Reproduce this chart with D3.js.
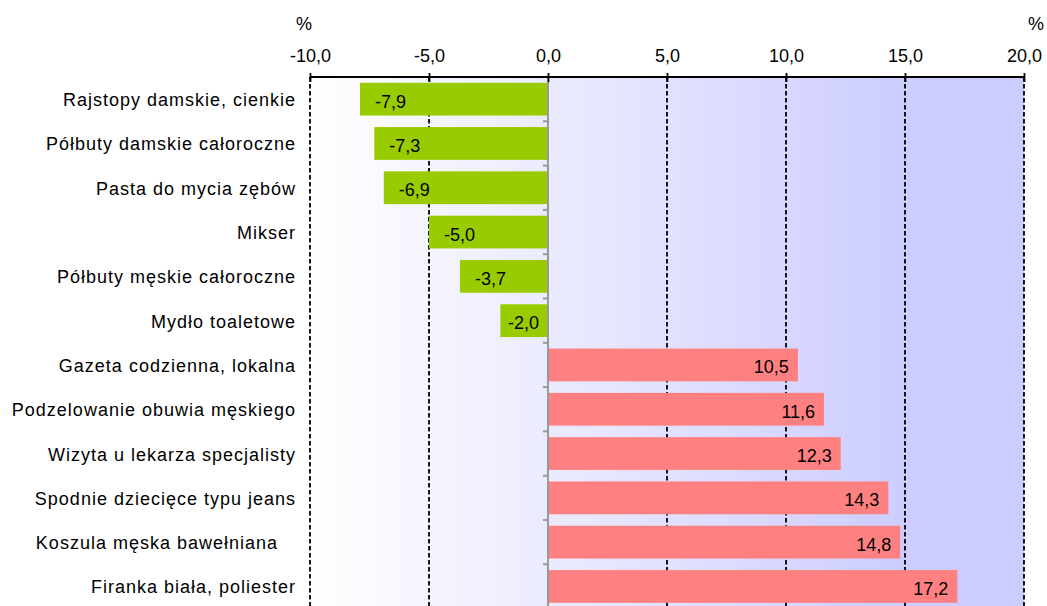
<!DOCTYPE html>
<html>
<head>
<meta charset="utf-8">
<script src="https://cdn.jsdelivr.net/npm/d3@7"></script>
<style>
  html, body { margin: 0; padding: 0; background: #fff; }
  svg text { font-family: "Liberation Sans", Arial, sans-serif; font-size: 18px; fill: #000; white-space: pre; }
  svg text.cat { letter-spacing: 1px; }
</style>
</head>
<body>
<svg id="chart" width="1047" height="606"></svg>
<script>
const categories = [
  "Rajstopy damskie, cienkie",
  "Półbuty damskie całoroczne",
  "Pasta do mycia zębów",
  "Mikser",
  "Półbuty męskie całoroczne",
  "Mydło toaletowe",
  "Gazeta codzienna, lokalna",
  "Podzelowanie obuwia męskiego",
  "Wizyta u lekarza specjalisty",
  "Spodnie dziecięce typu jeans",
  "Koszula męska bawełniana   ",
  "Firanka biała, poliester"
];
const values = [-7.9, -7.3, -6.9, -5.0, -3.7, -2.0, 10.5, 11.6, 12.3, 14.3, 14.8, 17.2];
const tickValues = [-10, -5, 0, 5, 10, 15, 20];
const unitLabel = "%";

const svg = d3.select("#chart");
const pLeft = 310, pRight = 1024, pTop = 77, step = 44.3;
const pBottom = pTop + step * categories.length;

const x = d3.scaleLinear().domain([-10, 20]).range([pLeft, pRight]);
const y = d3.scaleBand().domain(categories).range([pTop, pBottom]).paddingInner(0.26).paddingOuter(0.13);
const fmt = v => d3.format(".1f")(v).replace(".", ",").replace("−", "-");

// background gradient
const defs = svg.append("defs");
const grad = defs.append("linearGradient").attr("id", "bg").attr("x1", "0").attr("x2", "1").attr("y1", "0").attr("y2", "0");
grad.append("stop").attr("offset", "0%").attr("stop-color", "#ffffff");
grad.append("stop").attr("offset", "85%").attr("stop-color", "#ccccff");
grad.append("stop").attr("offset", "100%").attr("stop-color", "#ccccff");
svg.append("rect").attr("x", pLeft).attr("y", pTop).attr("width", pRight - pLeft).attr("height", pBottom - pTop).attr("fill", "url(#bg)");

// dashed gridlines
svg.append("g").selectAll("line").data(tickValues.filter(d => d !== 0)).join("line")
  .attr("x1", d => x(d)).attr("x2", d => x(d))
  .attr("y1", pTop).attr("y2", pBottom)
  .attr("stroke", "#000").attr("stroke-width", 1.8).attr("stroke-dasharray", "4.5,2.5");

// bars
svg.append("g").selectAll("rect").data(categories).join("rect")
  .attr("x", (d, i) => x(Math.min(0, values[i])))
  .attr("width", (d, i) => Math.abs(x(values[i]) - x(0)))
  .attr("y", d => y(d))
  .attr("height", y.bandwidth())
  .attr("fill", (d, i) => values[i] < 0 ? "#99cc00" : "#ff8080");

// zero axis with category ticks
svg.append("line").attr("x1", x(0)).attr("x2", x(0)).attr("y1", pTop).attr("y2", pBottom)
  .attr("stroke", "#999").attr("stroke-width", 2);
svg.append("g").selectAll("line").data(d3.range(1, categories.length + 1)).join("line")
  .attr("x1", x(0) - 5).attr("x2", x(0))
  .attr("y1", k => pTop + k * step).attr("y2", k => pTop + k * step)
  .attr("stroke", "#999").attr("stroke-width", 2);

// top axis
const axis = d3.axisTop(x).tickValues(tickValues).tickFormat(fmt).tickSize(4).tickPadding(12);
const gA = svg.append("g").attr("transform", `translate(0,${pTop})`).call(axis);
gA.attr("font-size", null).attr("font-family", null);
gA.select(".domain").attr("stroke", "#000").attr("stroke-width", 1.8).attr("d", `M${pLeft},0H${pRight}`);
gA.selectAll(".tick line").attr("stroke", "#000").attr("stroke-width", 1.8).attr("y1", 5).attr("y2", -4);
gA.selectAll(".tick text").attr("fill", "#000").attr("y", -15.5).attr("dy", 0);

// unit labels
svg.append("text").attr("x", x(-10) - 6).attr("y", 30).attr("text-anchor", "middle").text(unitLabel);
svg.append("text").attr("x", pRight + 12).attr("y", 30).attr("text-anchor", "middle").text(unitLabel);

// category labels
svg.append("g").selectAll("text").data(categories).join("text")
  .attr("class", "cat")
  .attr("x", 296).attr("y", d => y(d) + y.bandwidth() / 2 + 7)
  .attr("text-anchor", "end").text(d => d);

// value labels
svg.append("g").selectAll("text").data(categories).join("text")
  .attr("y", d => y(d) + y.bandwidth() / 2 + 8.5)
  .attr("x", (d, i) => values[i] < 0 ? Math.min(x(values[i]) + 15, x(0) - 40) : x(values[i]) - 9)
  .attr("text-anchor", (d, i) => values[i] < 0 ? "start" : "end")
  .text((d, i) => fmt(values[i]));
</script>
</body>
</html>
